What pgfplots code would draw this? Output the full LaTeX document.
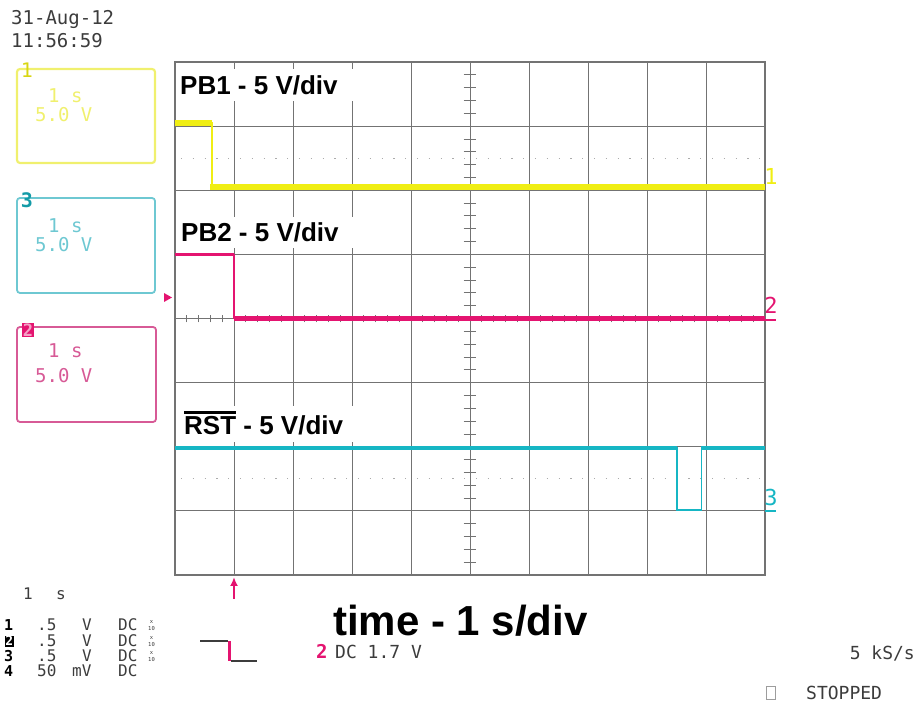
\documentclass[border=0pt]{standalone}
\usepackage{fontspec}
\setmainfont{Liberation Sans}
\newfontfamily\scopefont{DejaVu Sans Mono}
\usepackage{pgfplots}
\pgfplotsset{compat=1.18}
\usetikzlibrary{arrows.meta}
\definecolor{ych}{RGB}{240,238,20}
\definecolor{ybox}{RGB}{240,240,110}
\definecolor{pch}{RGB}{228,20,112}
\definecolor{pbox}{RGB}{215,90,150}
\definecolor{cch}{RGB}{22,182,196}
\definecolor{cbox}{RGB}{110,200,210}
\definecolor{gridc}{RGB}{115,115,115}
\definecolor{txt}{RGB}{60,60,60}
\newcommand\ovl[1]{\vbox{\hrule height 2.2bp\kern 3.2bp\hbox{#1}}}
\begin{document}
\begin{tikzpicture}
\useasboundingbox (0,0) rectangle (919bp,713bp);
\begin{axis}[at={(175bp,138bp)}, anchor=south west, scale only axis,
  width=590bp, height=513bp, xmin=0, xmax=10, ymin=0, ymax=8,
  xtick={0,...,10}, ytick={0,...,8}, xticklabels={}, yticklabels={},
  major tick length=0pt, grid=major,
  major grid style={draw=gridc, line width=1bp},
  axis line style={draw=gridc, line width=1.3bp},
  clip=false]
% dotted reference lines
\draw[gridc!60, line width=1.3bp, dash pattern=on 1.3bp off 10.5bp] (axis cs:0.1,6.5) -- (axis cs:10,6.5);
\draw[gridc!60, line width=1.3bp, dash pattern=on 1.3bp off 10.5bp] (axis cs:0.1,1.5) -- (axis cs:10,1.5);
% centre crosshair ticks
\pgfplotsinvokeforeach{1,...,39}{
  \draw[gridc, line width=0.8bp] (axis cs:4.89,{#1*0.2}) -- (axis cs:5.11,{#1*0.2});
}
\pgfplotsinvokeforeach{1,...,49}{
  \draw[gridc, line width=0.8bp] (axis cs:{#1*0.2},3.94) -- (axis cs:{#1*0.2},4.06);
}
% traces: thin full traces
\addplot[ych, line width=2bp] coordinates {(0,7.05) (0.62,7.05) (0.62,6.05) (10,6.05)};
\addplot[pch, line width=1.4bp] coordinates {(0,5.0) (1.0,5.0) (1.0,4.0) (10,4.0)};
\addplot[cch, line width=1.4bp] coordinates {(0,1.98) (8.51,1.98) (8.51,1.01) (8.92,1.01) (8.92,1.98) (10,1.98)};
% traces: thick horizontal levels
\addplot[ych, line width=5.5bp] coordinates {(0,7.05) (0.62,7.05)};
\addplot[ych, line width=5.5bp] coordinates {(0.6,6.05) (10,6.05)};
\addplot[pch, line width=3.6bp] coordinates {(0,5.0) (1.0,5.0)};
\addplot[pch, line width=4.2bp] coordinates {(1.0,4.0) (10,4.0)};
\addplot[cch, line width=4bp] coordinates {(0,1.98) (8.51,1.98)};
\addplot[cch, line width=4bp] coordinates {(8.92,1.98) (10,1.98)};
\addplot[cch, line width=2.4bp] coordinates {(8.51,1.01) (8.92,1.01)};
\end{axis}

\begin{scope}[shift={(0bp,713bp)}, x=1bp, y=-1bp]
% white label boxes and labels
\fill[white] (177,69) rectangle (364,101);
\fill[white] (178,217) rectangle (364,248);
\fill[white] (182,406) rectangle (390,442);
\node[anchor=base west, inner sep=0pt, font=\fontsize{26bp}{30bp}\selectfont\bfseries] at (180,95) {PB1 - 5 V/div};
\node[anchor=base west, inner sep=0pt, font=\fontsize{26bp}{30bp}\selectfont\bfseries] at (181,242) {PB2 - 5 V/div};
\node[anchor=base west, inner sep=0pt, font=\fontsize{26bp}{30bp}\selectfont\bfseries] at (184,435) {\ovl{RST} - 5 V/div};
\node[anchor=base west, inner sep=0pt, font=\fontsize{42bp}{48bp}\selectfont\bfseries] at (333,636) {time - 1 s/div};

% date
\node[anchor=base west, inner sep=0pt, text=txt, font=\scopefont\fontsize{19bp}{22bp}\selectfont] at (11,25) {31-Aug-12};
\node[anchor=base west, inner sep=0pt, text=txt, font=\scopefont\fontsize{19bp}{22bp}\selectfont] at (11,48) {11:56:59};

% channel boxes
\draw[ybox, line width=2.2bp, rounded corners=3bp] (17,69) rectangle (155,163);
\node[text=ych!90!black, font=\scopefont\fontsize{20bp}{22bp}\selectfont] at (27,70) {1};
\node[anchor=base west, inner sep=0pt, text=ybox, font=\scopefont\fontsize{19bp}{22bp}\selectfont] at (48,103) {1 s};
\node[anchor=base west, inner sep=0pt, text=ybox, font=\scopefont\fontsize{19bp}{22bp}\selectfont] at (35,122) {5.0 V};

\draw[cbox, line width=1.8bp, rounded corners=3bp] (17,198) rectangle (155,293);
\node[text=cch!85!black, font=\scopefont\bfseries\fontsize{20bp}{22bp}\selectfont] at (27,200) {3};
\node[anchor=base west, inner sep=0pt, text=cbox, font=\scopefont\fontsize{19bp}{22bp}\selectfont] at (48,233) {1 s};
\node[anchor=base west, inner sep=0pt, text=cbox, font=\scopefont\fontsize{19bp}{22bp}\selectfont] at (35,252) {5.0 V};

\draw[pbox, line width=1.8bp, rounded corners=3bp] (17,327) rectangle (156,422);
\node[fill=pch, text=pch!40, inner sep=0.5bp, font=\scopefont\bfseries\fontsize{17bp}{19bp}\selectfont] at (28,330) {2};
\node[anchor=base west, inner sep=0pt, text=pbox, font=\scopefont\fontsize{19bp}{22bp}\selectfont] at (48,358) {1 s};
\node[anchor=base west, inner sep=0pt, text=pbox, font=\scopefont\fontsize{19bp}{22bp}\selectfont] at (35,383) {5.0 V};

% markers
\fill[pch] (164,293) -- (172,297.5) -- (164,302) -- cycle;
\draw[pch, line width=2.4bp, -{Latex[length=9bp,width=8bp]}] (234,599) -- (234,577);

% right channel labels
\node[text=ych, font=\scopefont\fontsize{22bp}{24bp}\selectfont] at (771,176) {1};
\node[text=pch, font=\scopefont\fontsize{22bp}{24bp}\selectfont] at (771,305) {2};
\draw[pch, line width=1.5bp] (765,320) -- (776,320);
\node[text=cch, font=\scopefont\fontsize{22bp}{24bp}\selectfont] at (771,497) {3};
\draw[cch, line width=1.5bp] (765,511) -- (776,511);

% bottom info
\begin{scope}[every node/.style={anchor=base west, inner sep=0pt, text=txt, font=\scopefont\fontsize{16bp}{18bp}\selectfont}]
\node at (23,600) {1};
\node at (56,600) {s};
\foreach \r/\y in {1/631,3/662}{
  \node[font=\scopefont\bfseries\fontsize{15bp}{15bp}\selectfont, text=black] at (4,\y) {\r};
  \node at (37,\y) {.5};
  \node at (82,\y) {V};
  \node at (118,\y) {DC};
  \node[font=\scopefont\fontsize{5.5bp}{5.5bp}\selectfont, align=center] at (148,\y) {\shortstack{x\\10}};
}
\node[font=\scopefont\bfseries\fontsize{13bp}{14bp}\selectfont, text=white, fill=black, inner sep=0.6bp] at (4.5,646) {2};
\node at (37,647) {.5};
\node at (82,647) {V};
\node at (118,647) {DC};
\node[font=\scopefont\fontsize{5.5bp}{5.5bp}\selectfont] at (148,647) {\shortstack{x\\10}};
\node[font=\scopefont\bfseries\fontsize{15bp}{15bp}\selectfont, text=black] at (4,677) {4};
\node at (37,677) {50};
\node at (72,677) {mV};
\node at (118,677) {DC};
\node[text=pch, font=\scopefont\bfseries\fontsize{19bp}{20bp}\selectfont] at (316,659) {2};
\node[font=\scopefont\fontsize{18bp}{20bp}\selectfont] at (335,659) {DC 1.7 V};
\node[anchor=base east, font=\scopefont\fontsize{18bp}{20bp}\selectfont] at (915,660) {5 kS/s};
\node[font=\scopefont\fontsize{18bp}{20bp}\selectfont] at (806,700) {STOPPED};
\end{scope}
\draw[txt, line width=1.3bp] (200,641) -- (228,641);
\draw[pch, line width=3bp] (229.5,641) -- (229.5,661);
\draw[txt, line width=1.3bp] (231,661) -- (257,661);
\draw[gridc!70, line width=1bp] (766,687) rectangle (775,700);
\end{scope}
\end{tikzpicture}
\end{document}
